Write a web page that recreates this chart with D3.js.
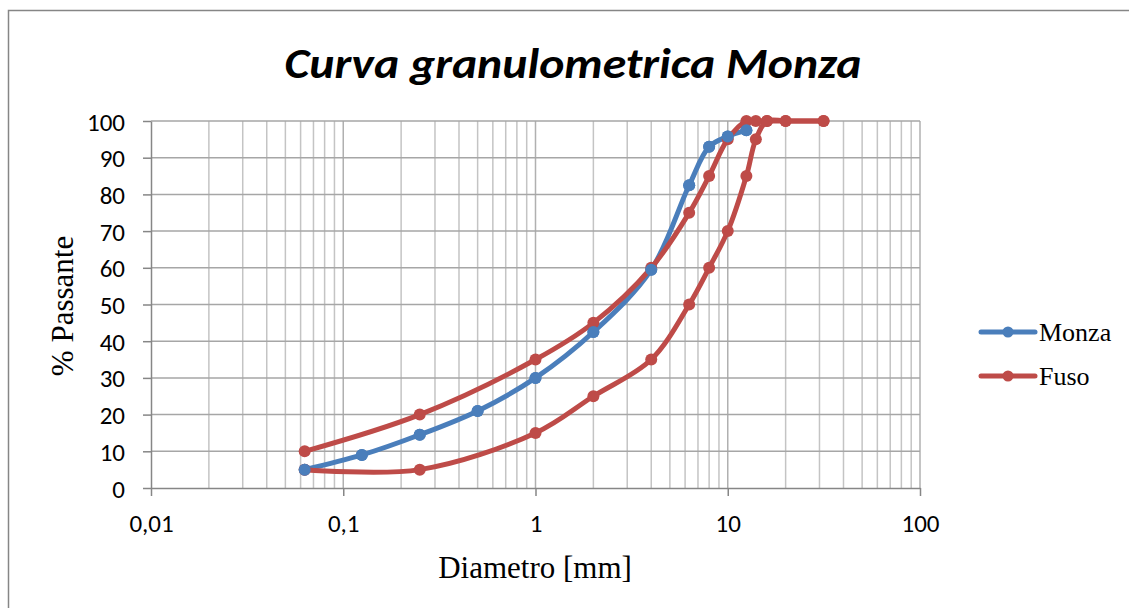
<!DOCTYPE html>
<html><head><meta charset="utf-8">
<script src="https://cdn.jsdelivr.net/npm/d3@7"></script>
<style>body{margin:0;background:#fff}svg{display:block}</style>
</head><body>
<svg id="c" width="1129" height="608"></svg>
<script>
const title = "Curva granulometrica Monza";
const xTitle = "Diametro [mm]";
const yTitle = "% Passante";
const xTickValues = [0.01, 0.1, 1, 10, 100];
const xTickLabels = ["0,01", "0,1", "1", "10", "100"];
const yTickValues = [0,10,20,30,40,50,60,70,80,90,100];

const monzaD = [0.063, 0.125, 0.25, 0.5, 1, 2, 4, 6.3, 8, 10, 12.5];
const monzaP = [5, 9, 14.5, 21, 30, 42.5, 59.5, 82.5, 93, 95.8, 97.5];
const fusoUpperD = [0.063, 0.25, 1, 2, 4, 6.3, 8, 10, 12.5, 14, 16, 20, 31.5];
const fusoUpperP = [10, 20, 35, 45, 60, 75, 85, 95, 100, 100, 100, 100, 100];
const fusoLowerD = [0.063, 0.25, 1, 2, 4, 6.3, 8, 10, 12.5, 14, 16, 20, 31.5];
const fusoLowerP = [5, 5, 15, 25, 35, 50, 60, 70, 85, 95, 100, 100, 100];

const blue = "#4a7ebb", red = "#be4b48";
const sansFont = "Carlito, Lato, 'Open Sans', sans-serif";
const serifFont = "'Liberation Serif', 'Times New Roman', serif";
const svg = d3.select("#c");

svg.append("rect").attr("x",8.5).attr("y",10.5).attr("width",1200).attr("height",700)
  .attr("fill","#fff").attr("stroke","#868686").attr("stroke-width",1.5);

const L=151, R=920, T=121, B=488;
const x = d3.scaleLog().domain([0.01,100]).range([L,R]);
const y = d3.scaleLinear().domain([0,100]).range([B,T]);

// minor vertical grid
const minor = [];
for (let e=-2; e<2; e++) for (let k=2;k<=9;k++) minor.push(k*Math.pow(10,e));
const g = svg.append("g");
g.selectAll("line.mn").data(minor).join("line")
  .attr("x1",d=>x(d)).attr("x2",d=>x(d)).attr("y1",T).attr("y2",B)
  .attr("stroke","#c4c4c4").attr("stroke-width",1.5);
g.selectAll("line.mj").data(xTickValues.slice(1)).join("line")
  .attr("x1",d=>x(d)).attr("x2",d=>x(d)).attr("y1",T).attr("y2",B)
  .attr("stroke","#b0b0b0").attr("stroke-width",1.5);
g.selectAll("line.h").data(yTickValues.slice(1)).join("line")
  .attr("x1",L).attr("x2",R).attr("y1",d=>y(d)).attr("y2",d=>y(d))
  .attr("stroke","#a6a6a6").attr("stroke-width",1.5);

// axes
const xa = svg.append("g").attr("transform",`translate(0,${B})`)
  .call(d3.axisBottom(x).tickValues(xTickValues).tickFormat((d,i)=>xTickLabels[i]).tickSize(8).tickSizeOuter(0));
const ya = svg.append("g").attr("transform",`translate(${L},0)`)
  .call(d3.axisLeft(y).tickValues(yTickValues).tickSize(8).tickSizeOuter(0));
[xa,ya].forEach(a=>{
  a.attr("font-size",null).attr("font-family",null);
  a.select(".domain").attr("stroke","#868686").attr("stroke-width",1.5);
  a.selectAll(".tick line").attr("stroke","#868686").attr("stroke-width",1.5);
  a.selectAll("text").attr("fill","#000").style("font-family",sansFont).style("font-size","25px");
});
xa.selectAll("text").attr("dy","0").attr("y",44);
ya.selectAll("text").attr("x",-26).attr("dy","0.36em");

// lines
const line = d3.line().x(d=>x(d[0])).y(d=>y(d[1])).curve(d3.curveCatmullRom.alpha(0.5));
const series = [
  {d:monzaD,p:monzaP,c:blue},
  {d:fusoUpperD,p:fusoUpperP,c:red},
  {d:fusoLowerD,p:fusoLowerP,c:red},
  {d:monzaD,p:monzaP,c:blue,pointsOnly:true}
];
series.forEach(s=>{
  const pts = s.d.map((v,i)=>[v,s.p[i]]);
  if(!s.pointsOnly) svg.append("path").datum(pts).attr("d",line).attr("fill","none")
    .attr("stroke",s.c).attr("stroke-width",5).attr("stroke-linejoin","round").attr("stroke-linecap","round");
  svg.append("g").selectAll("circle").data(pts).join("circle")
    .attr("cx",d=>x(d[0])).attr("cy",d=>y(d[1])).attr("r",6).attr("fill",s.c);
});

// title
svg.append("text").attr("x",573).attr("y",78).attr("text-anchor","middle")
  .style("font-family",sansFont).style("font-weight","bold").style("font-style","italic")
  .style("font-size","42px").attr("textLength",577).attr("lengthAdjust","spacingAndGlyphs").text(title);

svg.append("text").attr("x",535).attr("y",578).attr("text-anchor","middle")
  .style("font-family",serifFont).style("font-size","31px").text(xTitle);
svg.append("text").attr("transform","translate(73,306) rotate(-90)").attr("text-anchor","middle")
  .style("font-family",serifFont).style("font-size","31px").text(yTitle);

// legend
const leg = [{n:"Monza",c:blue,y:332},{n:"Fuso",c:red,y:376}];
const lg = svg.append("g");
leg.forEach(l=>{
  lg.append("line").attr("x1",981).attr("x2",1035).attr("y1",l.y).attr("y2",l.y)
    .attr("stroke",l.c).attr("stroke-width",5).attr("stroke-linecap","round");
  lg.append("circle").attr("cx",1008).attr("cy",l.y).attr("r",5.5).attr("fill",l.c);
  lg.append("text").attr("x",1039).attr("y",l.y+9).style("font-family",serifFont)
    .style("font-size","26px").text(l.n);
});
</script>
</body></html>
